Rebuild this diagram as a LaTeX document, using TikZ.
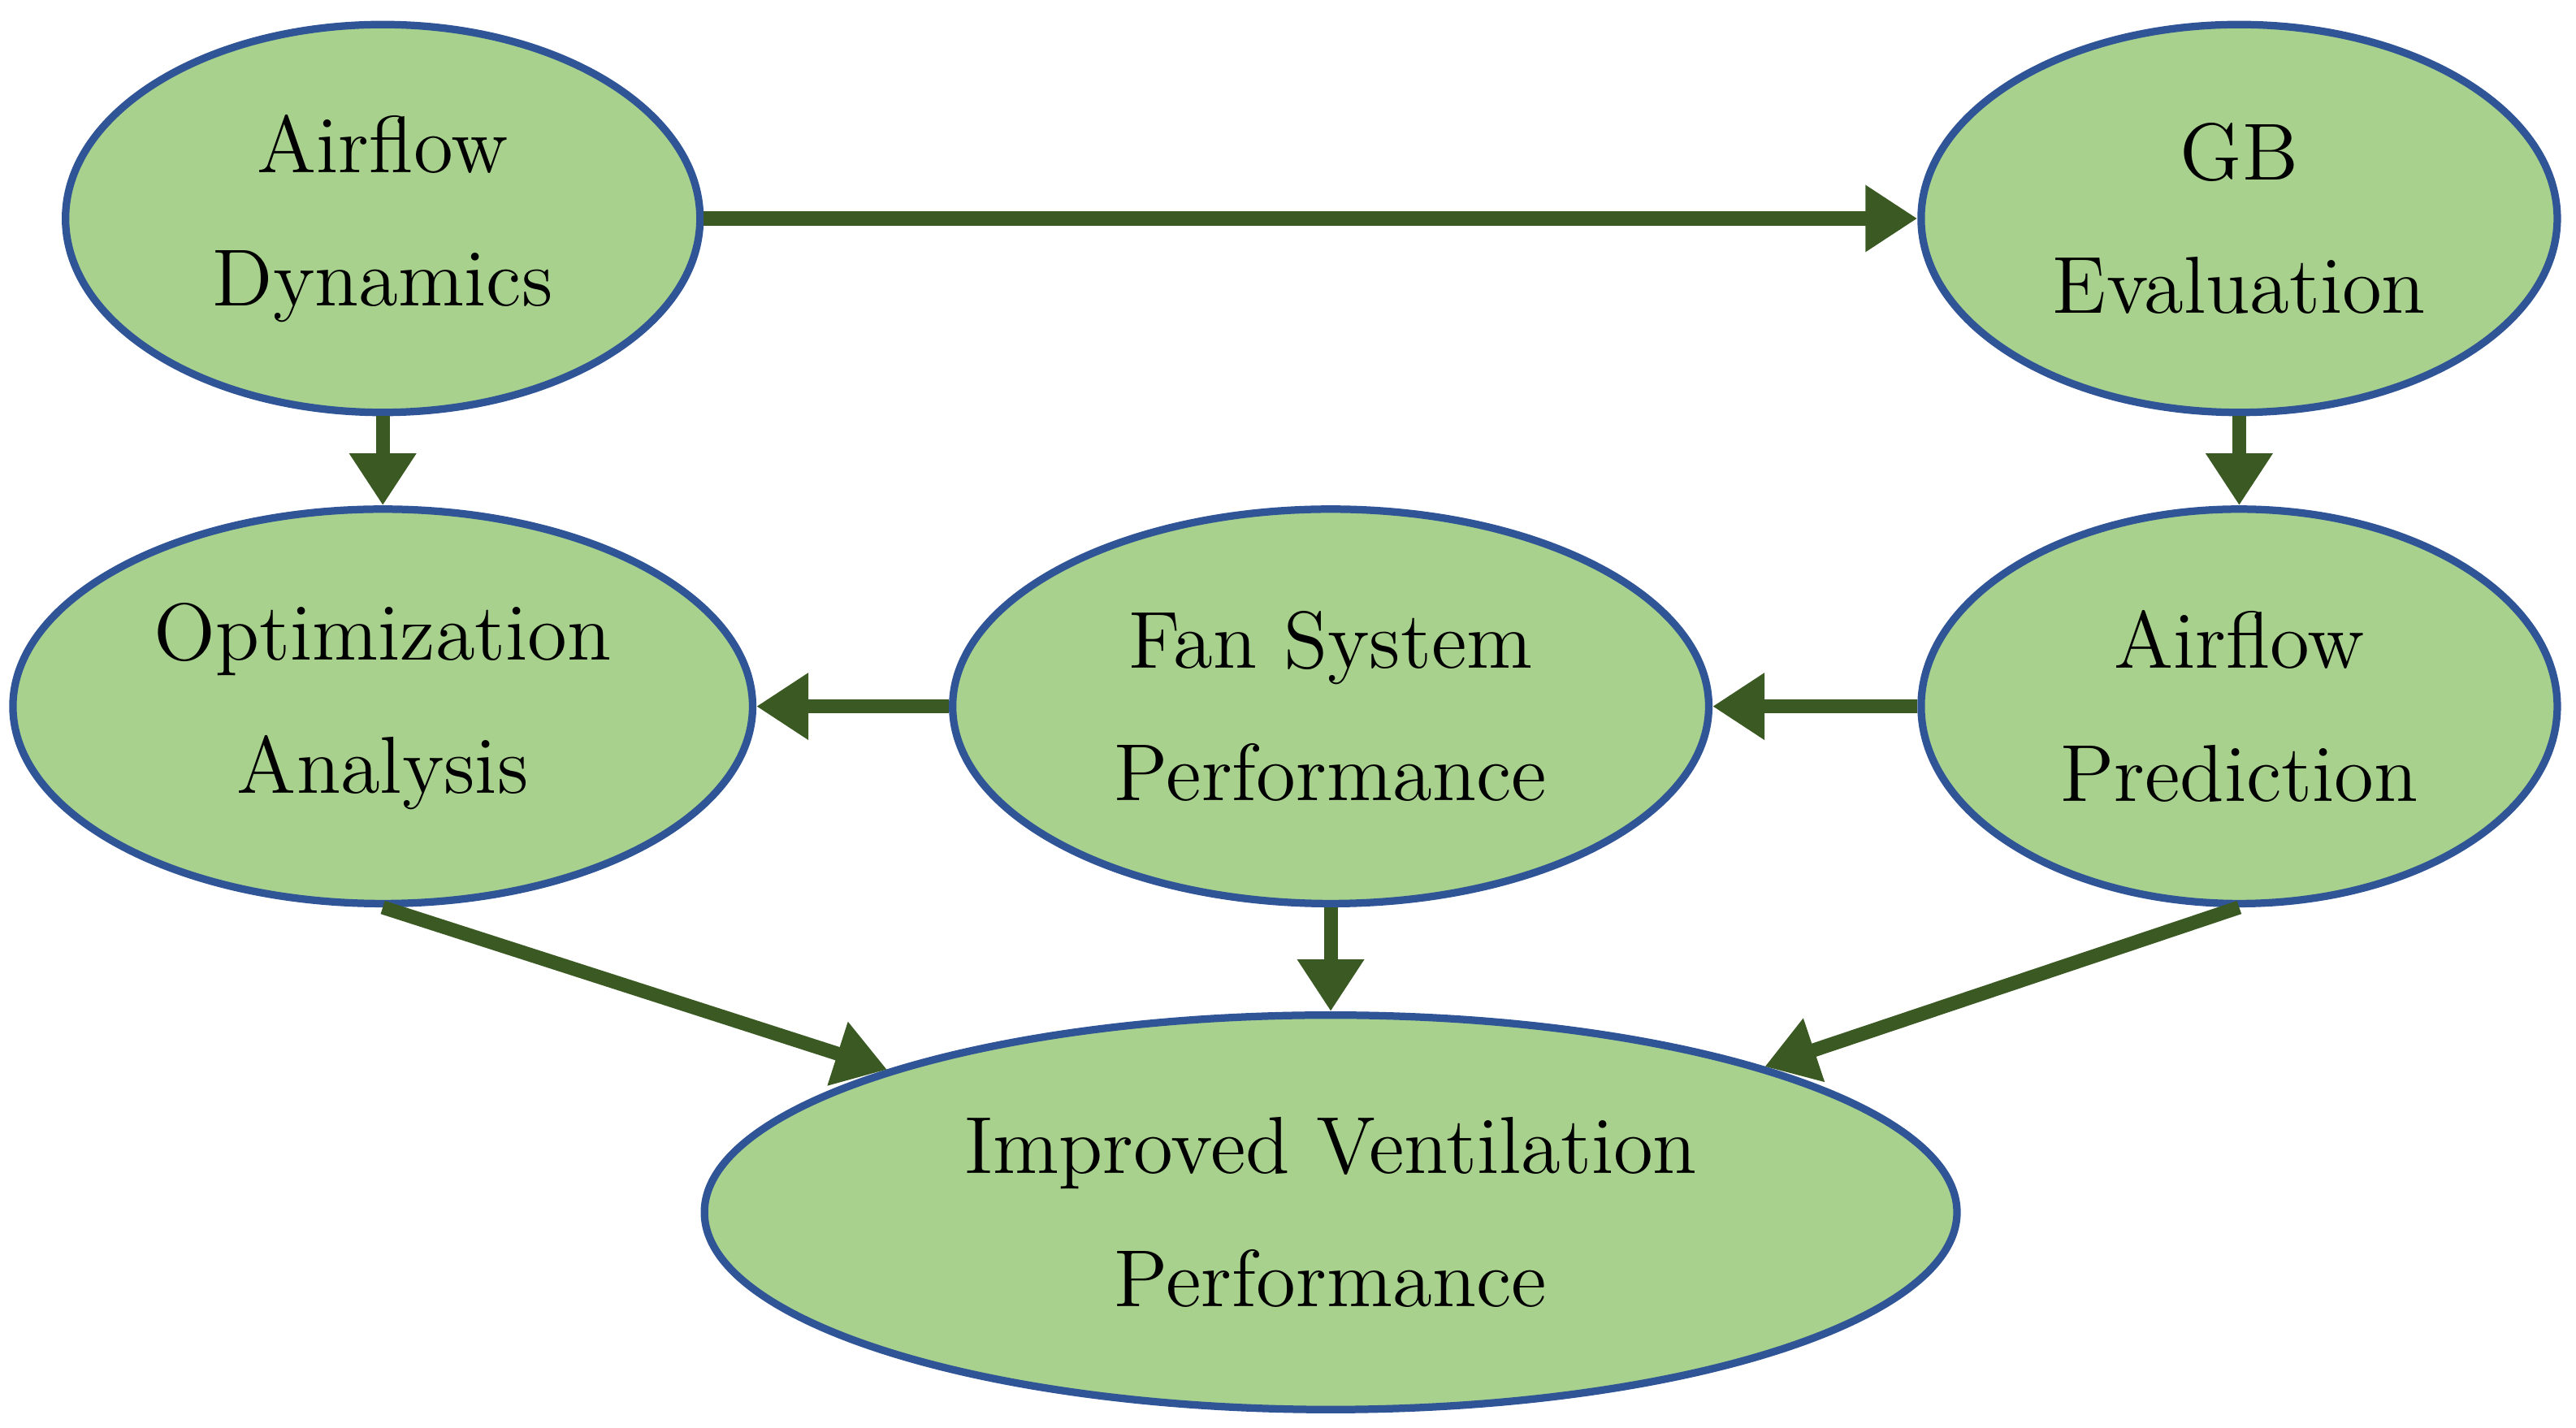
\documentclass[tikz,border=0pt]{standalone}
\usetikzlibrary{shapes.geometric,arrows.meta}
\definecolor{fillg}{HTML}{A9D18E}
\definecolor{edgeb}{HTML}{2F5597}
\definecolor{arr}{HTML}{3B5A23}
\begin{document}
\begin{tikzpicture}[x=0.01cm,y=-0.01cm,
  el/.style={ellipse,draw=edgeb,line width=1.3pt,fill=fillg,inner sep=0pt,align=center,
    font=\fontsize{14}{19}\selectfont},
  ar/.style={draw=arr,line width=2.4pt,-{Triangle[length=9pt,width=11pt]}}]
\useasboundingbox (0,0) rectangle (1568,869);
\node[el,minimum width=386\pgflinewidth*0+3.86cm,minimum height=2.36cm] (ad) at (233,133) {Airflow\\[4pt]Dynamics};
\node[el,minimum width=3.87cm,minimum height=2.36cm] (gb) at (1363,133) {GB\\[4pt]Evaluation};
\node[el,minimum width=4.5cm,minimum height=2.4cm] (oa) at (233,430) {Optimization\\[4pt]Analysis};
\node[el,minimum width=4.6cm,minimum height=2.4cm] (fs) at (810,430) {Fan System\\[4pt]Performance};
\node[el,minimum width=3.87cm,minimum height=2.4cm] (ap) at (1363,430) {Airflow\\[4pt]Prediction};
\node[el,minimum width=7.62cm,minimum height=2.4cm] (iv) at (810,738) {Improved Ventilation\\[4pt]Performance};
\draw[ar] (ad.east) -- (gb.west);
\draw[ar] (ad.south) -- (oa.north);
\draw[ar] (gb.south) -- (ap.north);
\draw[ar] (fs.west) -- (oa.east);
\draw[ar] (ap.west) -- (fs.east);
\draw[ar] (oa.south) -- (iv);
\draw[ar] (fs.south) -- (iv.north);
\draw[ar] (ap.south) -- (iv);
\end{tikzpicture}
\end{document}
